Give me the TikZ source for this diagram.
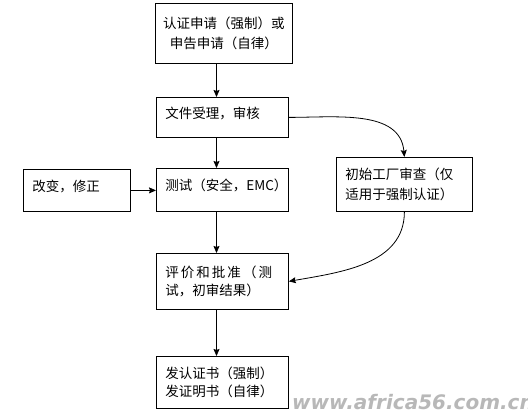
\documentclass[tikz,border=0pt]{standalone}
\usepackage{fontspec}
\setmainfont{Noto Sans CJK SC}
\newfontfamily\markfont{DejaVu Sans}
\usetikzlibrary{arrows.meta}
\tikzset{
  box/.style={draw, line width=0.8pt, anchor=north west, align=left,
    inner xsep=9pt, inner ysep=0pt, font=\fontsize{13.5}{20}\selectfont},
  onebox/.style={box, text depth=10pt},
  flow/.style={line width=0.8pt, -{Stealth[length=7pt,width=6pt,inset=1pt]}},
}

\begin{document}
\begin{tikzpicture}[x=1pt,y=-1pt]
  \clip (0,0) rectangle (528,419);
  \coordinate (col) at (216.5,0);
  % boxes
  \node[box, align=center, inner xsep=6pt, text width=125pt, minimum height=60pt] (req) at (155,3) {认证申请（强制）或\\申告申请（自律）};
  \node[onebox, text width=114pt, minimum height=40pt] (file) at (156,97) {文件受理，审核};
  \node[onebox, text width=114pt, minimum height=43pt] (test) at (156,168) {测试（安全，EMC）};
  \node[onebox, text width=89pt, minimum height=42pt] (chg) at (23,169) {改变，修正};
  \node[box, text width=118pt, minimum height=54pt] (check) at (336,157) {初始工厂审查（仅\\适用于强制认证）};
  \node[box, text width=114pt, minimum height=56pt] (eval) at (156,253) {{\addfontfeature{LetterSpace=15}评价和批准（测}\\[-2pt]试，初审结果）};
  \node[box, text width=114pt, minimum height=52pt] (cert) at (156,356) {发认证书（强制）\\[-2pt]发证明书（自律）};
  % connectors
  \draw[flow] (req.south -| col) -- (file.north -| col);
  \draw[flow] (file.south -| col) -- (test.north -| col);
  \draw[flow] (test.south -| col) -- (eval.north -| col);
  \draw[flow] (eval.south -| col) -- (cert.north -| col);
  \draw[flow] (chg.east) -- (chg.east -| test.west);
  \draw[flow] (file.east) to[out=0, in=95] (check.north);
  \draw[flow] (check.south) to[out=-90, in=10] (eval.east);
  % watermark
  \node[anchor=base west, inner sep=0pt, text=black!28,
    font=\markfont\bfseries\itshape\fontsize{20}{24}\selectfont] (mark) at (292,410) {www.africa56.com.cn};
\end{tikzpicture}
\end{document}
